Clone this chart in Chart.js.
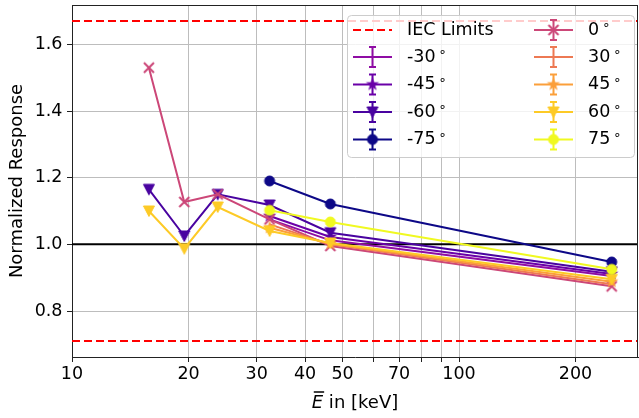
<!DOCTYPE html>
<html>
<head>
<meta charset="utf-8">
<script src="https://cdn.jsdelivr.net/npm/chart.js@4.4.1/dist/chart.umd.min.js"></script>
<style>
  body { margin: 0; background: #fff; }
  canvas { display: block; }
</style>
</head>
<body>
<canvas id="chart" width="639" height="418"></canvas>
<script>
// mean photon energies (keV)
const energies = [15.8, 19.5, 23.8, 32.4, 46.5, 248];

// angle labels, in legend order
const angles = ['-30', '-45', '-60', '-75', '0', '30', '45', '60', '75'];

// normalized response per angle (null = not measured)
const resp_m30 = [null, null, null, 1.075, 1.012, 0.905];
const resp_m45 = [null, null, null, 1.085, 1.022, 0.911];
const resp_m60 = [1.165, 1.025, 1.150, 1.118, 1.035, 0.918];
const resp_m75 = [null, null, null, 1.190, 1.121, 0.947];
const resp_0 = [1.530, 1.127, 1.150, 1.075, 0.995, 0.874];
const resp_30 = [null, null, null, 1.060, 1.000, 0.880];
const resp_45 = [null, null, null, 1.050, 1.002, 0.888];
const resp_60 = [1.100, 0.987, 1.112, 1.040, 1.004, 0.895];
const resp_75 = [null, null, null, 1.102, 1.067, 0.925];

const iecLimits = [0.71, 1.67];
const yTicks = [0.8, 1.0, 1.2, 1.4, 1.6];
const xGrid = [10, 20, 30, 40, 50, 60, 70, 80, 90, 100, 200];
const xTickLabels = [10, 20, 30, 40, 50, 70, 100, 200];

const series = [resp_m30, resp_m45, resp_m60, resp_m75, resp_0, resp_30, resp_45, resp_60, resp_75];
const colors = ['#8f0da4', '#6a00a8', '#4903a0', '#0d0887', '#cc4778', '#ed7953', '#fb9f3a', '#fdca26', '#f0f921'];
const markers = ['none', 'star', 'tri', 'circle', 'x', 'none', 'star', 'tri', 'circle'];

const X_MIN = 10, X_MAX = 290;
const FONT = 'DejaVu Sans';

// little canvases used as point styles (same ones go in the legend)
function markerCanvas(kind, color) {
  const c = document.createElement('canvas');
  c.width = 16; c.height = 16;
  const g = c.getContext('2d');
  g.fillStyle = color;
  g.strokeStyle = color;
  g.lineWidth = 1;
  g.beginPath();
  if (kind === 'circle') {
    g.arc(8, 8, 5, 0, Math.PI * 2);
    g.fill(); g.stroke();
  } else if (kind === 'tri') {
    g.moveTo(2.5, 3); g.lineTo(13.5, 3); g.lineTo(8, 13.5); g.closePath();
    g.fill(); g.stroke();
  } else if (kind === 'star') {
    for (let i = 0; i < 10; i++) {
      const r = i % 2 ? 2.8 : 7;
      const a = -Math.PI / 2 + i * Math.PI / 5;
      g.lineTo(8 + r * Math.cos(a), 8 + r * Math.sin(a));
    }
    g.closePath(); g.fill();
  } else if (kind === 'x') {
    g.lineWidth = 2;
    g.moveTo(3, 3); g.lineTo(13, 13);
    g.moveTo(13, 3); g.lineTo(3, 13);
    g.stroke();
  }
  return c;
}

const markerImgs = markers.map((m, i) => m === 'none' ? null : markerCanvas(m, colors[i]));

function hline(y, color, dash, order) {
  return {
    data: [{ x: X_MIN, y: y }, { x: X_MAX, y: y }],
    borderColor: color,
    borderWidth: 2,
    borderDash: dash,
    pointRadius: 0,
    order: order
  };
}

const datasets = [
  hline(1.0, '#000000', [], 100),
  hline(iecLimits[0], '#ff0000', [8, 4], 99),
  hline(iecLimits[1], '#ff0000', [8, 4], 99)
];

series.forEach((vals, i) => {
  datasets.push({
    label: angles[i],
    data: energies.map((e, k) => ({ x: e, y: vals[k] })).filter(p => p.y !== null),
    borderColor: colors[i],
    backgroundColor: colors[i],
    borderWidth: 2,
    pointStyle: markerImgs[i] || 'circle',
    pointRadius: markerImgs[i] ? 6 : 0,
    order: 20 - i
  });
});

// top + right spines and axis titles
const frame = {
  id: 'frame',
  afterDraw(chart) {
    const ctx = chart.ctx;
    const a = chart.chartArea;
    ctx.save();
    ctx.strokeStyle = '#222';
    ctx.lineWidth = 1;
    ctx.beginPath();
    ctx.moveTo(a.left, a.top + 0.5); ctx.lineTo(a.right, a.top + 0.5);
    ctx.moveTo(a.right - 0.5, a.top); ctx.lineTo(a.right - 0.5, a.bottom);
    ctx.stroke();

    ctx.fillStyle = '#000';
    ctx.font = '18px ' + FONT;
    ctx.textAlign = 'center';
    ctx.textBaseline = 'middle';
    ctx.save();
    ctx.translate(17, (a.top + a.bottom) / 2);
    ctx.rotate(-Math.PI / 2);
    ctx.fillText('Normalized Response', 0, 0);
    ctx.restore();

    // x title: italic E with a bar over it
    ctx.textAlign = 'left';
    ctx.textBaseline = 'alphabetic';
    const rest = ' in [keV]';
    ctx.font = 'italic 18px ' + FONT;
    const wE = ctx.measureText('E').width;
    ctx.font = '18px ' + FONT;
    const wR = ctx.measureText(rest).width;
    const x0 = (a.left + a.right) / 2 - (wE + wR) / 2;
    const base = 408;
    ctx.font = 'italic 18px ' + FONT;
    ctx.fillText('E', x0, base);
    ctx.font = '18px ' + FONT;
    ctx.fillText(rest, x0 + wE, base);
    ctx.lineWidth = 1.5;
    ctx.strokeStyle = '#000';
    ctx.beginPath();
    ctx.moveTo(x0 + 2, base - 16); ctx.lineTo(x0 + wE + 1, base - 16);
    ctx.stroke();
    ctx.restore();
  }
};

// matplotlib-like legend box, two columns
const boxLegend = {
  id: 'boxLegend',
  afterDraw(chart) {
    const ctx = chart.ctx;
    const a = chart.chartArea;
    const bx = a.right - 291, by = a.top + 10, bw = 287, bh = 142;
    ctx.save();
    ctx.beginPath();
    ctx.roundRect(bx + 0.5, by + 0.5, bw, bh, 4);
    ctx.fillStyle = 'rgba(255,255,255,0.8)';
    ctx.fill();
    ctx.strokeStyle = '#cccccc';
    ctx.lineWidth = 1;
    ctx.stroke();

    const rows = [15, 42, 69.5, 97, 124.5];
    const cols = [6, 187];
    const entries = [{ iec: true }].concat(angles.map((t, i) => ({ idx: i })));
    entries.forEach((en, n) => {
      const col = n < 5 ? 0 : 1;
      const hx = bx + cols[col];
      const y = by + rows[n % 5];
      const cx = hx + 19.5;
      ctx.setLineDash([]);
      if (en.iec) {
        ctx.strokeStyle = '#ff0000';
        ctx.lineWidth = 2;
        ctx.setLineDash([8, 4]);
        ctx.beginPath();
        ctx.moveTo(hx, y); ctx.lineTo(hx + 39, y);
        ctx.stroke();
        ctx.setLineDash([]);
      } else {
        const c = colors[en.idx];
        ctx.strokeStyle = c;
        ctx.lineWidth = 2;
        ctx.beginPath();
        ctx.moveTo(hx, y); ctx.lineTo(hx + 39, y);
        ctx.moveTo(cx, y - 10); ctx.lineTo(cx, y + 10);
        ctx.moveTo(cx - 3.5, y - 10); ctx.lineTo(cx + 3.5, y - 10);
        ctx.moveTo(cx - 3.5, y + 10); ctx.lineTo(cx + 3.5, y + 10);
        ctx.stroke();
        const img = markerImgs[en.idx];
        if (img) ctx.drawImage(img, cx - 8, y - 8);
      }
      ctx.fillStyle = '#000';
      ctx.font = '17.5px ' + FONT;
      ctx.textAlign = 'left';
      ctx.textBaseline = 'middle';
      const tx = hx + 54;
      if (en.iec) {
        ctx.fillText('IEC Limits', tx, y);
      } else {
        const t = angles[en.idx];
        ctx.fillText(t, tx, y);
        const w = ctx.measureText(t).width;
        ctx.font = '13px ' + FONT;
        ctx.fillText('\u2218', tx + w + 3, y - 4);
      }
    });
    ctx.restore();
  }
};

new Chart(document.getElementById('chart'), {
  type: 'line',
  data: { datasets: datasets },
  options: {
    responsive: false,
    animation: false,
    events: [],
    layout: { autoPadding: false, padding: { top: 5, right: 1, left: 0, bottom: 0 } },
    plugins: {
      legend: { display: false },
      tooltip: { enabled: false }
    },
    elements: { line: { tension: 0 } },
    scales: {
      x: {
        type: 'logarithmic',
        min: X_MIN,
        max: X_MAX,
        afterBuildTicks: (scale) => { scale.ticks = xGrid.map(v => ({ value: v })); },
        afterFit: (scale) => {
          scale.height = 61;
          scale.paddingLeft = 0;
          scale.paddingRight = 0;
        },
        ticks: {
          autoSkip: false,
          maxRotation: 0,
          padding: 2,
          color: '#000',
          font: { family: FONT, size: 17.5 },
          callback: (v) => xTickLabels.includes(v) ? String(v) : ''
        },
        grid: { color: '#bdbdbd', lineWidth: 1, tickLength: 5, tickColor: '#222' },
        border: { color: '#222', width: 1 }
      },
      y: {
        type: 'linear',
        min: 0.662,
        max: 1.718,
        afterBuildTicks: (scale) => { scale.ticks = yTicks.map(v => ({ value: v })); },
        afterFit: (scale) => {
          scale.width = 72;
          scale.paddingTop = 0;
          scale.paddingBottom = 0;
        },
        ticks: {
          padding: 4.5,
          color: '#000',
          font: { family: FONT, size: 17.5 },
          callback: (v) => v.toFixed(1)
        },
        grid: { color: '#bdbdbd', lineWidth: 1, tickLength: 5, tickColor: '#222' },
        border: { color: '#222', width: 1 }
      }
    }
  },
  plugins: [frame, boxLegend]
});
</script>
</body>
</html>
